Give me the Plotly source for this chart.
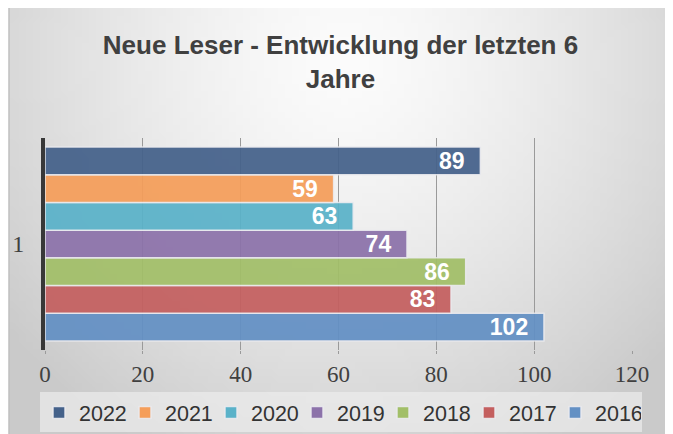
import base64
import struct
import zlib
import math
import plotly.graph_objects as go

# ---- data ----
years = ["2016", "2017", "2018", "2019", "2020", "2021", "2022"]
values = [102, 83, 86, 74, 63, 59, 89]
colors = ["#6390c4", "#c45f5f", "#a2bf68", "#8c72aa", "#5ab2c9", "#f59e5a", "#44618a"]
category = ["1"]
x_ticks = [0, 20, 40, 60, 80, 100, 120]
title_text = "Neue Leser - Entwicklung der letzten 6<br>Jahre"

# the page body has an 8px margin, so figure pixels = page pixels - 8
OFF = 8
W, H = 673 - OFF, 434 - OFF
# plot area in page pixels: x 45..632, y 138..350
ML, MR, MT, MB = 45 - OFF, W - (632 - OFF), 138 - OFF, H - (350 - OFF)
PW, PH = W - ML - MR, H - MT - MB


def px_x(px):  # page px -> paper x
    return (px - OFF - ML) / PW


def px_y(py):  # page px -> paper y
    return (H - MB - (py - OFF)) / PH


def gradient_png(w, h):
    raw = bytearray()
    for j in range(h):
        raw.append(0)
        for i in range(w):
            dx = (i / (w - 1) - 0.5) * 2
            dy = (j / (h - 1) - 0.12) * 1.25
            d = min(1.0, math.sqrt(dx * dx + dy * dy) / 1.3)
            v = int(252 - 50 * d ** 1.4)
            raw += bytes([v, v, v])

    def chunk(t, data):
        return struct.pack(">I", len(data)) + t + data + struct.pack(">I", zlib.crc32(t + data) & 0xFFFFFFFF)

    png = b"\x89PNG\r\n\x1a\n"
    png += chunk(b"IHDR", struct.pack(">IIBBBBB", w, h, 8, 2, 0, 0, 0))
    png += chunk(b"IDAT", zlib.compress(bytes(raw)))
    png += chunk(b"IEND", b"")
    return "data:image/png;base64," + base64.b64encode(png).decode()


fig = go.Figure()
for yr, val, col in zip(years, values, colors):
    fig.add_trace(go.Bar(
        y=category, x=[val], name=yr, orientation="h",
        marker=dict(color=col, opacity=0.93, line=dict(color="rgba(235,235,240,0.9)", width=1.5)),
        text=[val], texttemplate="%{text}\u00a0\u00a0", textposition="inside", insidetextanchor="end",
        constraintext="none",
        textfont=dict(family="Liberation Sans, Arial", size=23, color="white", weight="bold"),
        cliponaxis=False,
    ))

bg = gradient_png(96, 64)
fig.add_layout_image(dict(
    source=bg, xref="paper", yref="paper",
    x=px_x(9), y=px_y(6), sizex=px_x(680) - px_x(9), sizey=px_y(6) - px_y(440),
    xanchor="left", yanchor="top", sizing="stretch", layer="below",
))

# outer frame line
fig.add_shape(type="rect", xref="paper", yref="paper",
              x0=px_x(9), x1=px_x(680), y0=px_y(440), y1=px_y(6),
              line=dict(color="#c0c0c0", width=1.5), fillcolor="rgba(0,0,0,0)", layer="below")
# legend box
fig.add_shape(type="rect", xref="paper", yref="paper",
              x0=px_x(40), x1=px_x(642), y0=px_y(432), y1=px_y(392),
              line=dict(width=0), fillcolor="rgba(236,236,236,0.7)", layer="below")

fig.update_layout(
    width=W, height=H,
    margin=dict(l=ML, r=MR, t=MT, b=MB, autoexpand=False),
    paper_bgcolor="white",
    plot_bgcolor="rgba(0,0,0,0)",
    barmode="group", bargap=0.085, bargroupgap=0,
    title=dict(text=title_text, x=0.5, xanchor="center", xref="container",
               y=1 - 46 / H, yanchor="top", yref="container",
               font=dict(family="Liberation Sans, Arial", size=26, color="#404040", weight="bold")),
    showlegend=True,
    legend=dict(orientation="h", traceorder="reversed", xref="paper", yref="paper",
                x=px_x(39), xanchor="left", y=px_y(392), yanchor="top", bgcolor="rgba(0,0,0,0)",
                font=dict(family="Liberation Sans, Arial", size=21.5, color="#333333"),
                entrywidth=41, entrywidthmode="pixels", itemwidth=30),
    xaxis=dict(range=[0, 120], tickvals=x_ticks, showgrid=True, gridcolor="#9a9a9a", gridwidth=1,
               zeroline=False, showline=False, ticks="outside", ticklen=3, tickcolor="#9a9a9a",
               tickfont=dict(family="Liberation Serif, Times New Roman", size=23, color="#404040")),
    yaxis=dict(type="category", showgrid=False, showline=True, linecolor="#383838", linewidth=4,
               ticks="", ticklabelstandoff=12,
               tickfont=dict(family="Liberation Serif, Times New Roman", size=24, color="#404040")),
)

fig.write_html("out.html")
